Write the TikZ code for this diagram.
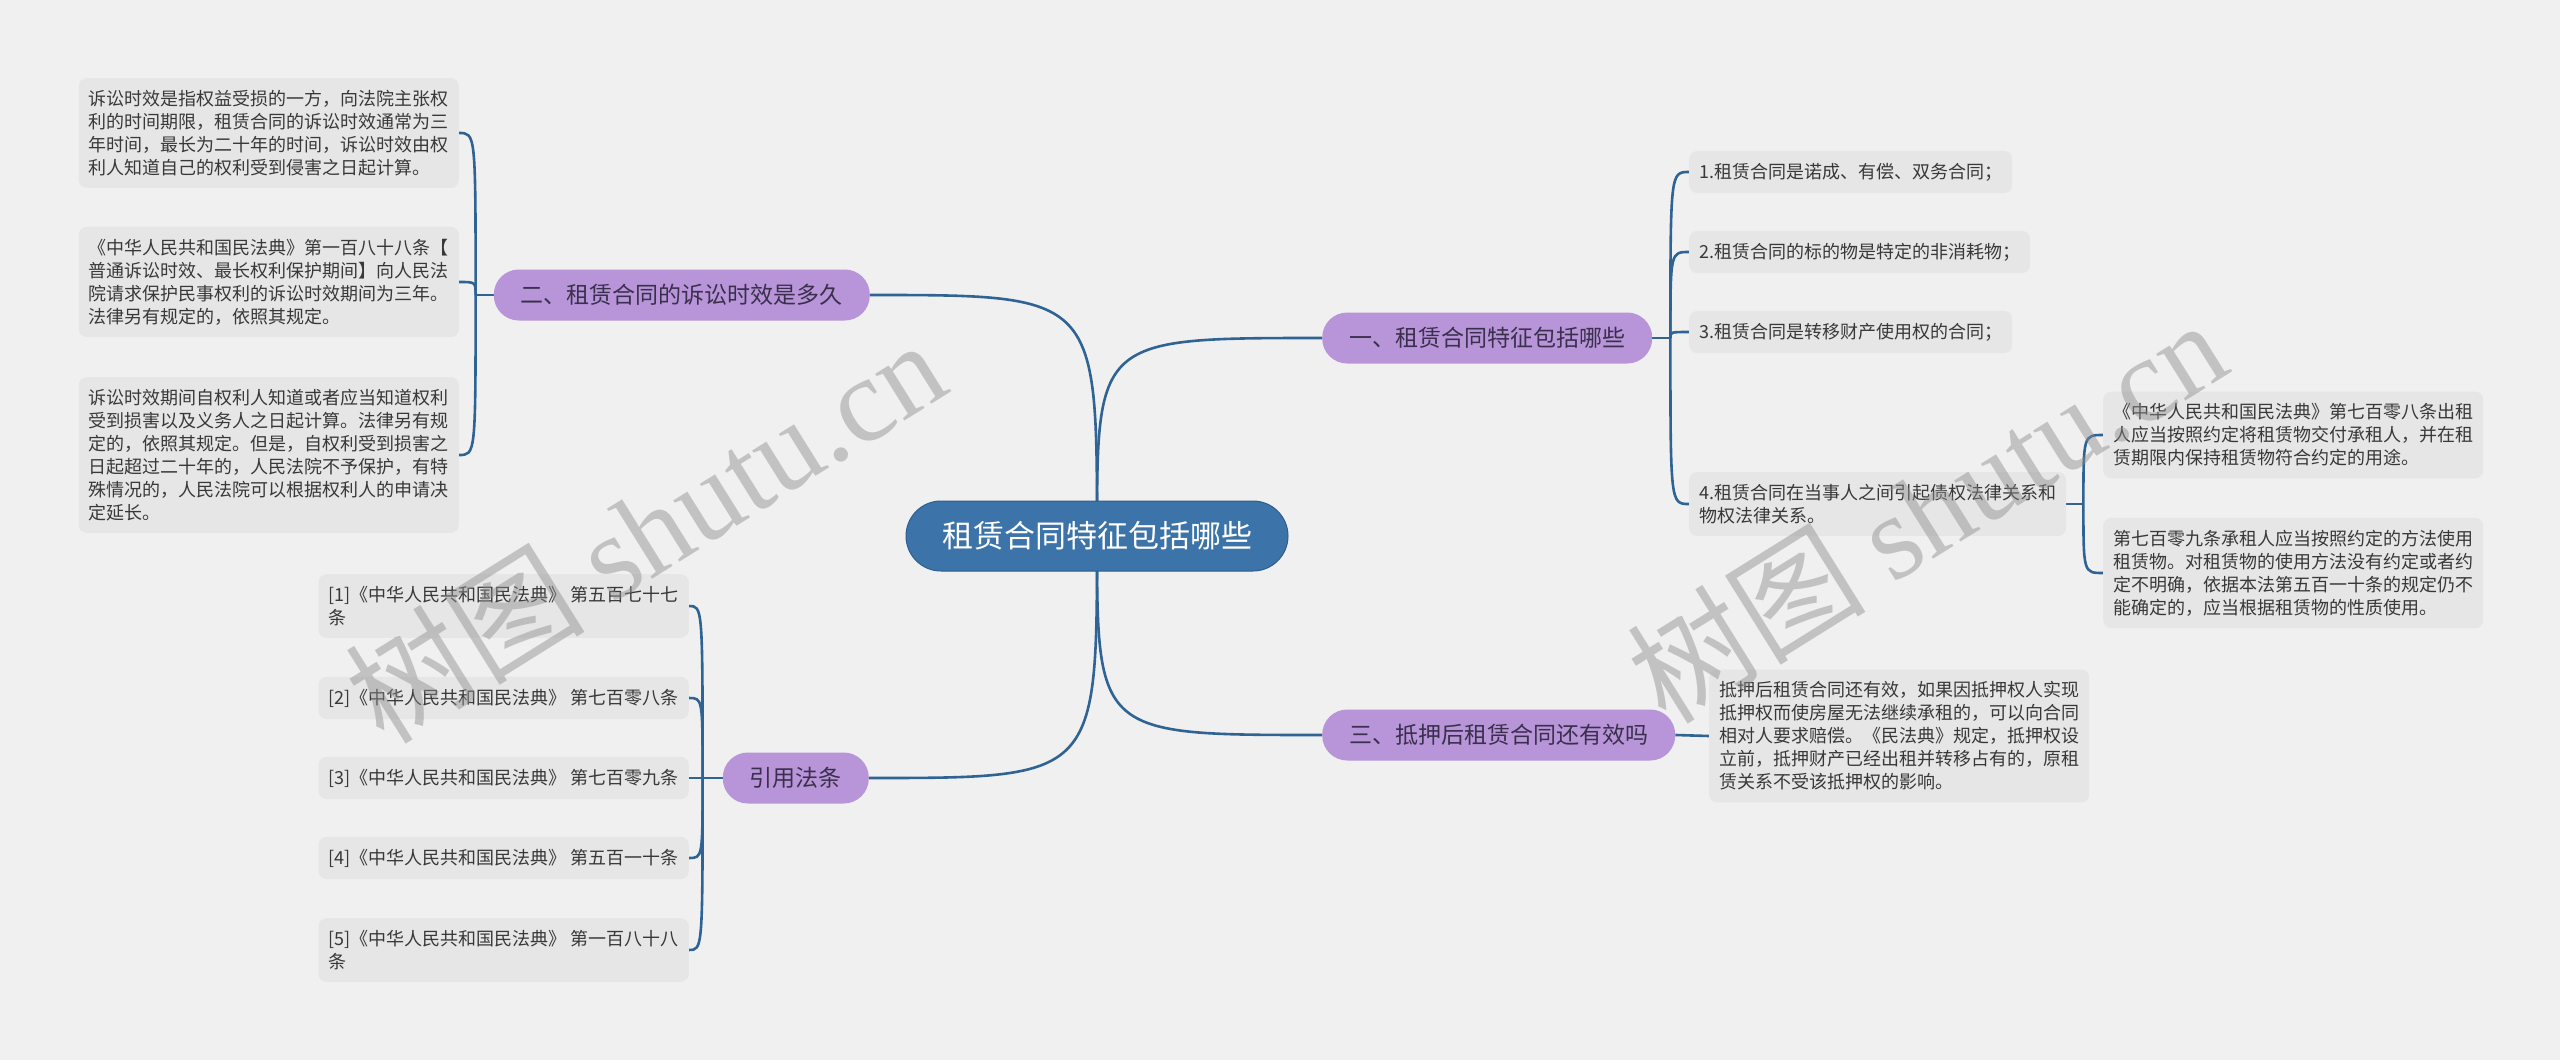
\documentclass[tikz,border=0pt]{standalone}
\usepackage{fontspec}
\setmainfont{Noto Sans CJK SC}
\newfontfamily\wmlatin{Liberation Serif}
\usetikzlibrary{calc}
\definecolor{bgc}{HTML}{F0F0F0}
\definecolor{linec}{HTML}{2F6394}
\definecolor{rootc}{HTML}{3C73A8}
\definecolor{rootb}{HTML}{2D5E8E}
\definecolor{brc}{HTML}{B795D8}
\definecolor{brt}{HTML}{3A2F4C}
\definecolor{leafc}{HTML}{E6E6E6}
\definecolor{leaft}{HTML}{383838}
\definecolor{wmc}{HTML}{8C8C8C}
\pgfdeclarelayer{bg}\pgfdeclarelayer{fg}
\pgfsetlayers{bg,main,fg}
\begin{document}
\begin{tikzpicture}[x=1pt,y=-1pt,
 conn/.style={draw=linec,line width=2.6pt},
 rootbox/.style={fill=rootc,draw=rootb,line width=1pt,rounded corners=35pt,minimum height=70pt,inner xsep=36pt,inner ysep=0pt,text=white,font=\fontsize{31}{37}\selectfont},
 brbox/.style={fill=brc,rounded corners=25pt,minimum height=51pt,inner xsep=27pt,inner ysep=0pt,text=brt,font=\fontsize{23}{28}\selectfont},
 leaf/.style={fill=leafc,rounded corners=8pt,inner xsep=10pt,inner ysep=12pt,text=leaft,align=left,font=\fontsize{18}{23}\selectfont},
 wm/.style={text=wmc,opacity=0.45,rotate=32,font=\fontsize{120}{140}\selectfont}
]
\begin{pgfonlayer}{bg}
\fill[bgc] (0,0) rectangle (2560,1060);
\end{pgfonlayer}
\useasboundingbox (0,0) rectangle (2560,1060);

% root and branches
\node[rootbox] (root) at (1097,536) {租赁合同特征包括哪些};
\node[brbox,anchor=west] (b1) at (1322,338) {一、租赁合同特征包括哪些};
\node[brbox,anchor=east] (b2) at (870,295) {二、租赁合同的诉讼时效是多久};
\node[brbox,anchor=west] (b3) at (1322,735) {三、抵押后租赁合同还有效吗};
\node[brbox,anchor=east] (b4) at (869,778) {引用法条};

% left leaves
\node[leaf,anchor=east] (l1) at (459,133) {诉讼时效是指权益受损的一方，向法院主张权\\利的时间期限，租赁合同的诉讼时效通常为三\\年时间，最长为二十年的时间，诉讼时效由权\\利人知道自己的权利受到侵害之日起计算。};
\node[leaf,anchor=east] (l2) at (459,282) {《中华人民共和国民法典》第一百八十八条【\\普通诉讼时效、最长权利保护期间】向人民法\\院请求保护民事权利的诉讼时效期间为三年。\\法律另有规定的，依照其规定。};
\node[leaf,anchor=east] (l3) at (459,455) {诉讼时效期间自权利人知道或者应当知道权利\\受到损害以及义务人之日起计算。法律另有规\\定的，依照其规定。但是，自权利受到损害之\\日起超过二十年的，人民法院不予保护，有特\\殊情况的，人民法院可以根据权利人的申请决\\定延长。};

% references
\node[leaf,anchor=east] (f1) at (689,606) {[1]《中华人民共和国民法典》 第五百七十七\\条};
\node[leaf,anchor=east] (f2) at (689,698) {[2]《中华人民共和国民法典》 第七百零八条};
\node[leaf,anchor=east] (f3) at (689,778) {[3]《中华人民共和国民法典》 第七百零九条};
\node[leaf,anchor=east] (f4) at (689,858) {[4]《中华人民共和国民法典》 第五百一十条};
\node[leaf,anchor=east] (f5) at (689,950) {[5]《中华人民共和国民法典》 第一百八十八\\条};

% right leaves
\node[leaf,anchor=west] (r1) at (1689,172) {1.租赁合同是诺成、有偿、双务合同；};
\node[leaf,anchor=west] (r2) at (1689,252) {2.租赁合同的标的物是特定的非消耗物；};
\node[leaf,anchor=west] (r3) at (1689,332) {3.租赁合同是转移财产使用权的合同；};
\node[leaf,anchor=west] (r4) at (1689,504) {4.租赁合同在当事人之间引起债权法律关系和\\物权法律关系。};
\node[leaf,anchor=west] (r4a) at (2103,435) {《中华人民共和国民法典》第七百零八条出租\\人应当按照约定将租赁物交付承租人，并在租\\赁期限内保持租赁物符合约定的用途。};
\node[leaf,anchor=west] (r4b) at (2103,573) {第七百零九条承租人应当按照约定的方法使用\\租赁物。对租赁物的使用方法没有约定或者约\\定不明确，依据本法第五百一十条的规定仍不\\能确定的，应当根据租赁物的性质使用。};
\node[leaf,anchor=west] (r5) at (1709,736) {抵押后租赁合同还有效，如果因抵押权人实现\\抵押权而使房屋无法继续承租的，可以向合同\\相对人要求赔偿。《民法典》规定，抵押权设\\立前，抵押财产已经出租并转移占有的，原租\\赁关系不受该抵押权的影响。};

\begin{pgfonlayer}{bg}
% root to branches
\foreach \b in {b2,b4}
  \draw[conn] (root.center) .. controls (root.center |- \b.east) .. (\b.east);
\foreach \b in {b1,b3}
  \draw[conn] (root.center) .. controls (root.center |- \b.west) .. (\b.west);
% branch 2 bus
\draw[conn] (b2.west) -- ++(-18,0) coordinate (bus2);
\foreach \c in {l1,l2,l3}
  \draw[conn] (bus2) .. controls (bus2 |- \c.east) .. (\c.east);
% branch 4 bus
\draw[conn] (b4.west) -- ++(-20,0) coordinate (bus4);
\foreach \c in {f1,f2,f3,f4,f5}
  \draw[conn] (bus4) .. controls (bus4 |- \c.east) .. (\c.east);
% branch 1 bus
\draw[conn] (b1.east) -- ++(18,0) coordinate (bus1);
\foreach \c in {r1,r2,r3,r4}
  \draw[conn] (bus1) .. controls (bus1 |- \c.west) .. (\c.west);
% r4 bus
\draw[conn] (r4.east) -- ++(17,0) coordinate (busr4);
\foreach \c in {r4a,r4b}
  \draw[conn] (busr4) .. controls (busr4 |- \c.west) .. (\c.west);
% branch 3
\draw[conn] (b3.east) -- (r5.west);
\end{pgfonlayer}

\begin{pgfonlayer}{fg}
\node[wm] (wm1) at (645,530) {树图 {\wmlatin shutu.cn}};
\node[wm] (wm2) at (1926,510) {树图 {\wmlatin shutu.cn}};
\end{pgfonlayer}
\end{tikzpicture}
\end{document}
